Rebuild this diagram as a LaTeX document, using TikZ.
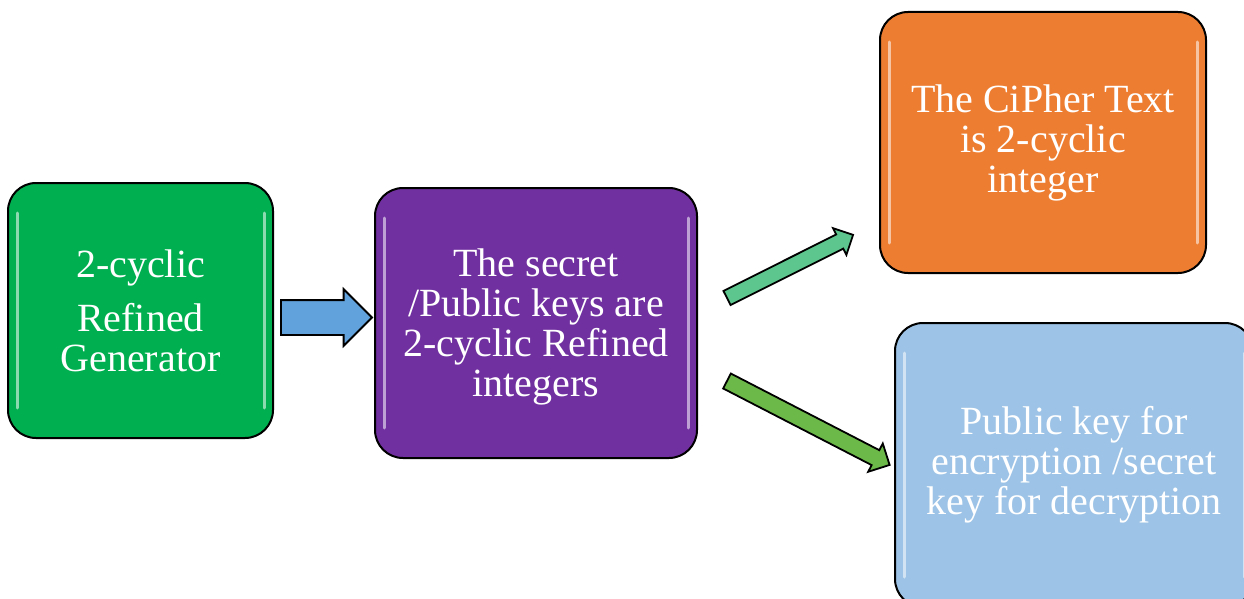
\documentclass[tikz,border=0pt]{standalone}
\usepackage{fontspec}
\setmainfont{Liberation Serif}
\usetikzlibrary{shapes.arrows}
\definecolor{cgreen}{HTML}{00B050}
\definecolor{cpurple}{HTML}{7030A0}
\definecolor{corange}{HTML}{ED7D31}
\definecolor{clblue}{HTML}{9DC3E6}
\definecolor{cablue}{HTML}{62A2DC}
\definecolor{cateal}{HTML}{5CC68E}
\definecolor{cagreen}{HTML}{6CB848}
\tikzset{
  boxstyle/.style={draw=black, line width=2pt, rounded corners=28pt, inner sep=0pt,
    text=white, align=center, font=\fontsize{40}{40}\selectfont,
    path picture={
      \draw[white, opacity=0.55, line width=3pt, line cap=round]
        ([xshift=9pt,yshift=-30pt]path picture bounding box.north west) --
        ([xshift=9pt,yshift=30pt]path picture bounding box.south west);
      \draw[white, opacity=0.55, line width=3pt, line cap=round]
        ([xshift=-9pt,yshift=-30pt]path picture bounding box.north east) --
        ([xshift=-9pt,yshift=30pt]path picture bounding box.south east);
    }},
  blockarrow/.style={single arrow, draw=black, line width=1.8pt, inner xsep=0pt,
    text height=0pt, text depth=0pt, anchor=tail, outer sep=0pt}
}
\begin{document}
\begin{tikzpicture}[x=1pt,y=-1pt]
\useasboundingbox (0,0) rectangle (1244,599);
\node[boxstyle, fill=cgreen, minimum width=265pt, minimum height=255pt] (gen) at (140.5,310.5)
  {2-cyclic\\[14pt]Refined\\Generator};
\node[boxstyle, fill=cpurple, minimum width=322pt, minimum height=270pt] (keys) at (536,323)
  {\\[-4pt]The secret\\/Public keys are\\2-cyclic Refined\\integers};
\node[boxstyle, fill=corange, minimum width=326pt, minimum height=261pt] (cipher) at (1043,142.5)
  {The CiPher Text\\is 2-cyclic\\integer};
\node[boxstyle, fill=clblue, minimum width=358pt, minimum height=284pt] (pub) at (1074,465)
  {Public key for\\encryption /secret\\key for decryption};
\node[blockarrow, fill=cablue, minimum height=91pt, minimum width=55pt, inner ysep=16.5pt,
  single arrow head extend=11pt] (a1) at (281,317.5) {};
\node[blockarrow, fill=cateal, minimum height=141pt, minimum width=28pt, inner ysep=7pt,
  single arrow head extend=7pt, rotate=26.6] (a2) at (727,298) {};
\node[blockarrow, fill=cagreen, minimum height=183pt, minimum width=30pt, inner ysep=7.5pt,
  single arrow head extend=7.5pt, rotate=-27.3] (a3) at (727,381) {};
\end{tikzpicture}
\end{document}
